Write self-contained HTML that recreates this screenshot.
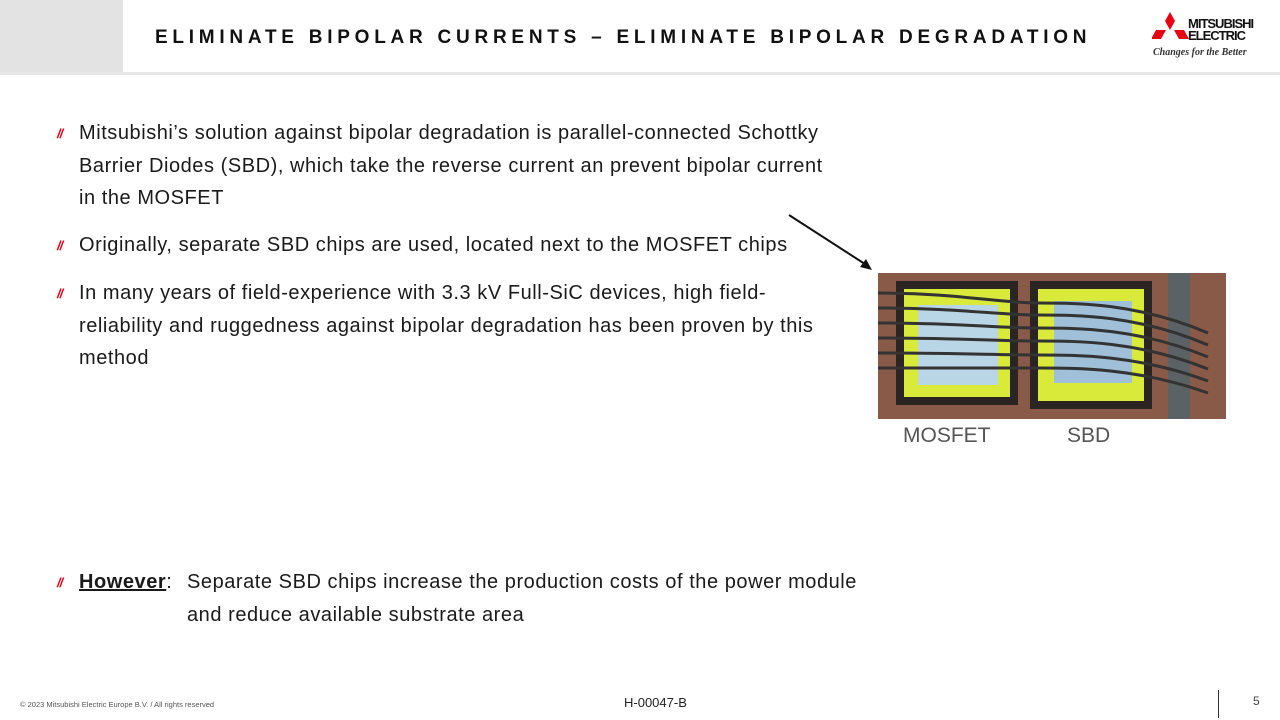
<!DOCTYPE html>
<html><head><meta charset="utf-8"><style>
body{margin:0;width:1280px;height:720px;background:#fff;position:relative;overflow:hidden;font-family:"Liberation Sans",sans-serif;color:#1a1a1a}
.abs{position:absolute;white-space:nowrap}
.t{font-size:20px;line-height:32.5px;letter-spacing:0.55px}
.b{color:#e60012;font-size:13px;font-style:italic;font-weight:bold;letter-spacing:-1px}
</style></head><body>
<div class="abs" style="left:0;top:0;width:123px;height:72px;background:#e3e3e3"></div>
<div class="abs" style="left:0;top:72px;width:1280px;height:3px;background:#e8e8e8"></div>
<div class="abs" style="left:155px;top:27px;font-size:19px;font-weight:bold;letter-spacing:4.75px;color:#111">ELIMINATE BIPOLAR CURRENTS – ELIMINATE BIPOLAR DEGRADATION</div>
<svg class="abs" style="left:1152px;top:12px" width="40" height="34" viewBox="0 0 40 34">
<polygon points="18,0 23,9 18,18 13,9" fill="#e60012"/>
<polygon points="4,18 14,18 9,27 -1,27" fill="#e60012"/>
<polygon points="22,18 32,18 37,27 27,27" fill="#e60012"/>
</svg>
<div class="abs" style="left:1188px;top:18px;font-size:13px;font-weight:bold;line-height:12px;letter-spacing:-1px;color:#111">MITSUBISHI<br>ELECTRIC</div>
<div class="abs" style="left:1153px;top:47px;font-size:10px;font-style:italic;font-weight:bold;color:#333;font-family:'Liberation Serif',serif">Changes for the Better</div>

<div class="abs b" style="left:57px;top:126px">//</div>
<div class="abs t" style="left:79px;top:117px">Mitsubishi’s solution against bipolar degradation is parallel-connected Schottky<br>Barrier Diodes (SBD), which take the reverse current an prevent bipolar current<br>in the MOSFET</div>
<div class="abs b" style="left:57px;top:238px">//</div>
<div class="abs t" style="left:79px;top:229px">Originally, separate SBD chips are used, located next to the MOSFET chips</div>
<div class="abs b" style="left:57px;top:286px">//</div>
<div class="abs t" style="left:79px;top:277px">In many years of field-experience with 3.3 kV Full-SiC devices, high field-<br>reliability and ruggedness against bipolar degradation has been proven by this<br>method</div>
<div class="abs b" style="left:57px;top:575px">//</div>
<div class="abs t" style="left:79px;top:566px"><b><u>However</u></b>:</div>
<div class="abs t" style="left:187px;top:566px">Separate SBD chips increase the production costs of the power module<br>and reduce available substrate area</div>

<svg class="abs" style="left:780px;top:210px" width="100" height="65"><line x1="9" y1="5" x2="88" y2="56" stroke="#111" stroke-width="2"/><polygon points="92,60 80,57 86,49" fill="#111"/></svg>

<svg class="abs" style="left:878px;top:273px" width="348" height="146" viewBox="0 0 348 146">
<rect width="348" height="146" fill="#8a5a48"/>
<rect x="290" y="0" width="22" height="146" fill="#5a6266"/>
<rect x="18" y="8" width="122" height="124" fill="#2a2422"/>
<rect x="26" y="16" width="106" height="108" fill="#d9ea3a"/>
<rect x="40" y="32" width="80" height="80" fill="#b9d6e6"/>
<rect x="152" y="8" width="122" height="128" fill="#2a2422"/>
<rect x="160" y="16" width="106" height="112" fill="#d9ea3a"/>
<rect x="176" y="28" width="78" height="82" fill="#9fc0d8"/>
<g stroke="#333" stroke-width="3" fill="none">
<path d="M0,20 C80,20 120,30 160,30 S260,30 330,60"/>
<path d="M0,35 C80,35 120,42 160,42 S260,42 330,72"/>
<path d="M0,50 C80,50 120,55 160,55 S260,55 330,84"/>
<path d="M0,65 C80,65 120,68 160,68 S260,68 330,96"/>
<path d="M0,80 C80,80 120,82 160,82 S260,82 330,108"/>
<path d="M0,95 C80,95 120,95 160,95 S260,95 330,120"/>
</g>
</svg>
<div class="abs" style="left:903px;top:424px;font-size:21px;color:#555">MOSFET</div>
<div class="abs" style="left:1067px;top:424px;font-size:21px;color:#555">SBD</div>

<div class="abs" style="left:20px;top:700px;font-size:7.5px;color:#555">© 2023 Mitsubishi Electric Europe B.V. / All rights reserved</div>
<div class="abs" style="left:624px;top:695px;font-size:13px;color:#222">H-00047-B</div>
<div class="abs" style="left:1218px;top:690px;width:1px;height:28px;background:#333"></div>
<div class="abs" style="left:1253px;top:694px;font-size:12px;color:#444">5</div>
</body></html>
